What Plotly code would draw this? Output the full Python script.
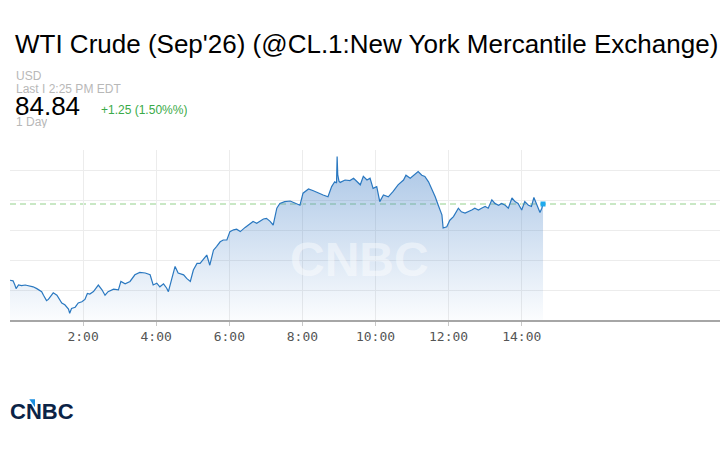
import plotly.graph_objects as go
import pandas as pd

# ---------------- data ----------------
DATE = "2026-07-08"

times = [
    "00:00", "00:05", "00:08", "00:10", "00:14", "00:19", "00:25", "00:33", "00:38", "00:44", "00:49", "00:52", "00:55",
    "01:00", "01:03", "01:06", "01:11", "01:17", "01:22", "01:25", "01:30", "01:33", "01:36", "01:38", "01:41", "01:47", "01:52", "01:58",
    "02:03", "02:07", "02:11", "02:17", "02:25", "02:31", "02:36", "02:41", "02:50", "02:58",
    "03:02", "03:09", "03:17", "03:25", "03:33", "03:42", "03:50", "03:55",
    "04:01", "04:06", "04:12", "04:17", "04:20", "04:25", "04:31", "04:36", "04:45", "04:50", "04:56",
    "05:01", "05:07", "05:12", "05:17", "05:23", "05:28", "05:34", "05:39", "05:45", "05:50", "05:56",
    "06:01", "06:07", "06:12", "06:18", "06:26", "06:34", "06:39", "06:45", "06:50", "06:56",
    "07:01", "07:07", "07:12", "07:15", "07:18", "07:23", "07:31", "07:40", "07:48", "07:56",
    "08:01", "08:10", "08:18", "08:26", "08:34", "08:42", "08:48", "08:53", "08:56", "08:57", "08:58",
    "09:00", "09:02", "09:10", "09:18", "09:24", "09:35", "09:40", "09:46", "09:51", "09:56",
    "10:02", "10:07", "10:13", "10:21", "10:29", "10:37", "10:46", "10:50", "10:57",
    "11:05", "11:10", "11:16", "11:21", "11:27", "11:32", "11:38", "11:43", "11:49", "11:51", "11:57",
    "12:02", "12:08", "12:16", "12:21", "12:27", "12:32", "12:38", "12:43", "12:49", "12:54",
    "13:00", "13:05", "13:11", "13:16", "13:22", "13:27", "13:33", "13:38", "13:44", "13:49", "13:54",
    "14:00", "14:05", "14:11", "14:16", "14:20", "14:25", "14:30", "14:33", "14:35",
]

prices = [
    83.57, 83.56, 83.49, 83.43, 83.49, 83.48, 83.49, 83.47, 83.46, 83.43, 83.39, 83.38, 83.32,
    83.23, 83.25, 83.30, 83.36, 83.32, 83.25, 83.19, 83.16, 83.13, 83.09, 83.02, 83.10, 83.12, 83.19, 83.21,
    83.25, 83.35, 83.34, 83.38, 83.49, 83.41, 83.32, 83.38, 83.42, 83.41,
    83.55, 83.51, 83.55, 83.66, 83.70, 83.69, 83.66, 83.49,
    83.52, 83.46, 83.51, 83.44, 83.38, 83.57, 83.80, 83.69, 83.66, 83.60, 83.55,
    83.74, 83.85, 83.85, 83.91, 83.99, 83.82, 84.07, 84.13, 84.21, 84.24, 84.24,
    84.38, 84.41, 84.42, 84.38, 84.45, 84.51, 84.55, 84.52, 84.55, 84.59,
    84.60, 84.55, 84.49, 84.66, 84.77, 84.85, 84.88, 84.89, 84.85, 84.82,
    85.02, 85.09, 85.06, 85.02, 84.99, 84.96, 85.13, 85.21, 85.19, 85.63, 85.33,
    85.22, 85.20, 85.24, 85.23, 85.27, 85.16, 85.30, 85.24, 85.27, 85.10,
    85.13, 84.88, 84.99, 84.96, 85.05, 85.16, 85.24, 85.32, 85.27,
    85.34, 85.38, 85.32, 85.30, 85.21, 85.10, 84.96, 84.82, 84.66, 84.44, 84.46,
    84.57, 84.63, 84.77, 84.71, 84.69, 84.71, 84.74, 84.77, 84.74, 84.77,
    84.80, 84.77, 84.91, 84.85, 84.82, 84.85, 84.82, 84.77, 84.94, 84.88, 84.85,
    84.74, 84.88, 84.82, 84.80, 84.95, 84.82, 84.70, 84.77, 84.84,
]

last_price = 84.84
x_tick_times = ["02:00", "04:00", "06:00", "08:00", "10:00", "12:00", "14:00"]
x_tick_labels = ["2:00", "4:00", "6:00", "8:00", "10:00", "12:00", "14:00"]

title_text = "WTI Crude (Sep'26) (@CL.1:New York Mercantile Exchange)"
currency_text = "USD"
last_text = "Last I 2:25 PM EDT"
price_text = "84.84"
change_text = "+1.25 (1.50%%)"
period_text = "1 Day"
brand_text = "CNBC"

# ---------------- layout geometry ----------------
W, H = 720, 450
ML, MR, MT, MB = 10, 0, 150, 130
Y_LO, Y_HI = 82.907, 85.74
X_END = f"{DATE} 19:25:30"


def pxx(p):
    return (p - ML) / (W - ML - MR)


def pxy(p):
    return 1 - (p - MT) / (H - MT - MB)


x = pd.to_datetime([f"{DATE} {t}" for t in times])
tickvals = pd.to_datetime([f"{DATE} {t}" for t in x_tick_times])

FONT = "Liberation Sans, Arial, Helvetica, sans-serif"

fig = go.Figure()

fig.add_trace(go.Scatter(
    x=x, y=prices, mode="lines",
    line=dict(color="#2a78c0", width=1.2),
    fill="tozeroy",
    fillgradient=dict(
        type="vertical",
        colorscale=[[0, "rgba(70,130,200,0.02)"], [1, "rgba(70,130,200,0.46)"]],
        start=Y_LO, stop=max(prices),
    ),
    hoverinfo="skip", showlegend=False,
))

fig.add_trace(go.Scatter(
    x=[x[-1]], y=[prices[-1]], mode="markers",
    marker=dict(symbol="square", size=5, color="#1ea9ee"),
    hoverinfo="skip", showlegend=False,
))

fig.add_shape(type="line", xref="paper", yref="y", x0=0, x1=1,
              y0=last_price, y1=last_price,
              line=dict(color="#93d18c", width=1, dash="6px,4px"), layer="below")

# blue feather triangle of the logo
fig.add_shape(type="path", xref="paper", yref="paper",
              path=f"M {pxx(29.3)} {pxy(399.3)} L {pxx(35)} {pxy(399.3)} L {pxx(35)} {pxy(407.3)} Z",
              fillcolor="#1b8fe0", line=dict(width=0), layer="above")

ann = []


def add_text(text, xpx, ypx, size, color, bold=False, family=FONT, xanchor="left", height=None):
    a = dict(
        text=f"<b>{text}</b>" if bold else text,
        x=pxx(xpx), y=pxy(ypx), xref="paper", yref="paper",
        xanchor=xanchor, yanchor="middle", showarrow=False, borderpad=0,
        font=dict(family=family, size=size, color=color),
    )
    if height is not None:
        a["height"] = height
    ann.append(a)


add_text(title_text, 14, 44, 26, "#000000")
add_text(currency_text, 15, 76.4, 12, "#b8b8b8", height=12)
add_text(last_text, 15, 88.8, 12, "#b8b8b8", height=12)
add_text(price_text, 14, 105.8, 26, "#000000", height=19)
add_text(change_text, 100, 110, 12, "#3aaa48", height=14)
add_text(period_text, 15, 122.5, 12, "#b8b8b8", height=12)
add_text(brand_text, 359, 259, 48, "rgba(255,255,255,0.45)", bold=True, xanchor="center")
add_text(brand_text, 9, 411, 22, "#0b2346", bold=True)

fig.update_layout(
    width=W, height=H,
    margin=dict(l=ML, r=MR, t=MT, b=MB, pad=0),
    paper_bgcolor="#ffffff", plot_bgcolor="#ffffff",
    showlegend=False,
    annotations=ann,
    xaxis=dict(
        range=[f"{DATE} 00:00", X_END],
        tickmode="array", tickvals=tickvals, ticktext=x_tick_labels,
        showgrid=True, gridcolor="#ececec", gridwidth=1,
        showline=True, linecolor="#a6a6a6", linewidth=1.5,
        ticks="outside", ticklen=4, tickcolor="#c8c8c8",
        tickfont=dict(family="DejaVu Sans Mono, monospace", size=13, color="#555555"),
        zeroline=False, fixedrange=True,
    ),
    yaxis=dict(
        range=[Y_LO, Y_HI],
        tickmode="linear", tick0=84.898, dtick=0.5,
        showticklabels=False, showgrid=True, gridcolor="#ececec", gridwidth=1,
        zeroline=False, showline=False, fixedrange=True,
    ),
)

fig.write_html(
    "out.html",
    config={"displayModeBar": False},
    post_script="document.body.style.margin='0';document.body.style.padding='0';",
)
